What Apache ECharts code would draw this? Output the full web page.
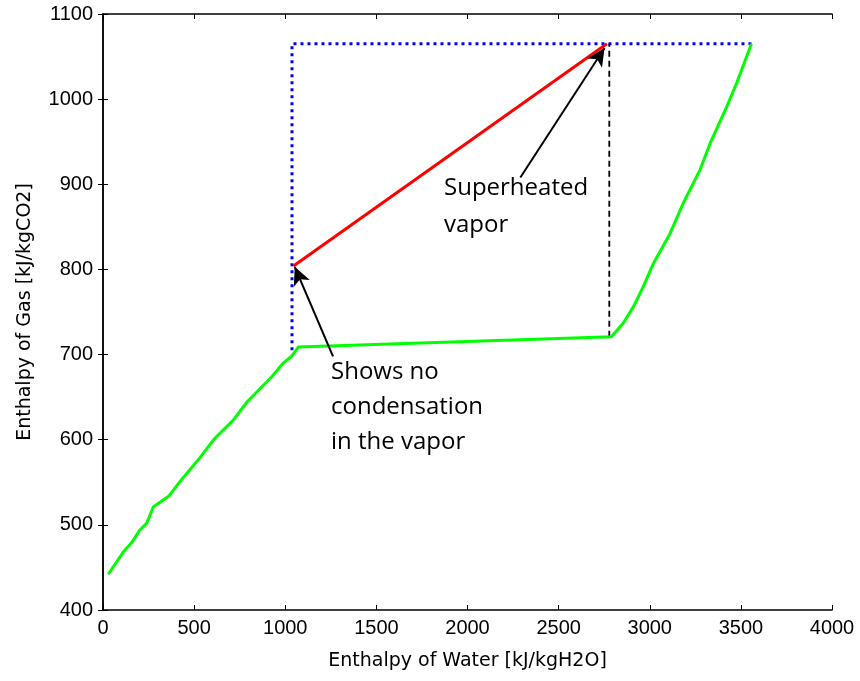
<!DOCTYPE html>
<html>
<head>
<meta charset="utf-8">
<script src="https://cdn.jsdelivr.net/npm/echarts@6/dist/echarts.min.js"></script>
<style>
html,body{margin:0;padding:0;background:#fff;}
#chart{width:860px;height:681px;}
</style>
</head>
<body>
<div id="chart"></div>
<script>
// Green curve: gas enthalpy vs water enthalpy
const greenX = [29, 111, 157, 199, 240, 276, 322, 362, 423, 532, 615, 715, 789, 926, 989, 1035, 1072, 2790, 2855, 2910, 2965, 3020, 3111, 3184, 3276, 3331, 3422, 3477, 3558];
const greenY = [442, 468, 479, 493, 502, 521, 528, 534, 551, 579, 602, 623, 644, 674, 690, 698, 709, 721, 737, 756, 780, 807, 842, 878, 917, 948, 991, 1019, 1065];
// Blue dotted envelope
const blueX = [1037, 1037, 3558];
const blueY = [705, 1065, 1065];
// Red superheated line
const redX = [1045, 2765];
const redY = [804, 1065];
// Black dashed vertical
const dashX = [2778, 2778];
const dashY = [721, 1065];
// Tick values
const xTicks = [0, 500, 1000, 1500, 2000, 2500, 3000, 3500, 4000];
const yTicks = [400, 500, 600, 700, 800, 900, 1000, 1100];
// Annotations (data coordinates)
const arrow1 = [[2290, 908], [2752, 1060]];
const arrow2 = [[1262, 698], [1052, 803]];

const zip = (xs, ys) => xs.map((x, i) => [x, ys[i]]);
const chart = echarts.init(document.getElementById('chart'));
const tickFont = {fontFamily: 'Liberation Sans, Arial, sans-serif', fontSize: 20, color: '#000', formatter: v => String(v)};
const nameFont = {fontFamily: '"DejaVu Sans", sans-serif', fontSize: 19, color: '#000'};
const axBase = {
  type: 'value',
  axisLine: {show: true, lineStyle: {color: '#000', width: 1.5}},
  axisTick: {show: true, inside: true, length: 5, lineStyle: {color: '#000'}},
  splitLine: {show: false}
};
chart.setOption({
  animation: false,
  backgroundColor: '#fff',
  grid: {left: 103, right: 28, top: 14, bottom: 71, containLabel: false},
  xAxis: [
    Object.assign({}, axBase, {
      min: xTicks[0], max: xTicks[xTicks.length - 1], interval: 500, position: 'bottom',
      axisLabel: Object.assign({margin: 8}, tickFont),
      name: 'Enthalpy of Water [kJ/kgH2O]', nameLocation: 'middle', nameGap: 42,
      nameTextStyle: nameFont
    }),
    Object.assign({}, axBase, {
      min: xTicks[0], max: xTicks[xTicks.length - 1], interval: 500, position: 'top',
      axisLabel: {show: false}
    })
  ],
  yAxis: [
    Object.assign({}, axBase, {
      min: yTicks[0], max: yTicks[yTicks.length - 1], interval: 100, position: 'left',
      axisLabel: Object.assign({margin: 10}, tickFont),
      name: 'Enthalpy of Gas [kJ/kgCO2]', nameLocation: 'middle', nameGap: 68, nameRotate: 90,
      nameTextStyle: nameFont
    }),
    Object.assign({}, axBase, {
      min: yTicks[0], max: yTicks[yTicks.length - 1], interval: 100, position: 'right',
      axisLabel: {show: false}
    })
  ],
  series: [
    {type: 'line', data: zip(blueX, blueY), symbol: 'none', silent: true,
     lineStyle: {color: '#0000ff', width: 3, type: [3, 4]}},
    {type: 'line', data: zip(dashX, dashY), symbol: 'none', silent: true,
     lineStyle: {color: '#000', width: 1.8, type: [6, 4]}},
    {type: 'line', data: zip(greenX, greenY), symbol: 'none', silent: true,
     lineStyle: {color: '#00ff00', width: 3}},
    {type: 'line', data: zip(redX, redY), symbol: 'none', silent: true,
     lineStyle: {color: '#ff0000', width: 3},
     markLine: {
       silent: true, symbol: ['none', 'arrow'], symbolSize: [13, 18],
       label: {show: false},
       lineStyle: {color: '#000', width: 2, type: 'solid'},
       data: [
         [{coord: arrow1[0]}, {coord: arrow1[1]}],
         [{coord: arrow2[0]}, {coord: arrow2[1]}]
       ]
     }}
  ],
  graphic: [
    {type: 'text', left: 444, top: 170, style: {text: 'Superheated\nvapor', font: '24px "Open Sans", sans-serif', fill: '#000', lineHeight: 37}},
    {type: 'text', left: 331, top: 355, style: {text: 'Shows no\ncondensation\nin the vapor', font: '24px "Open Sans", sans-serif', fill: '#000', lineHeight: 35}}
  ]
});
</script>
</body>
</html>
